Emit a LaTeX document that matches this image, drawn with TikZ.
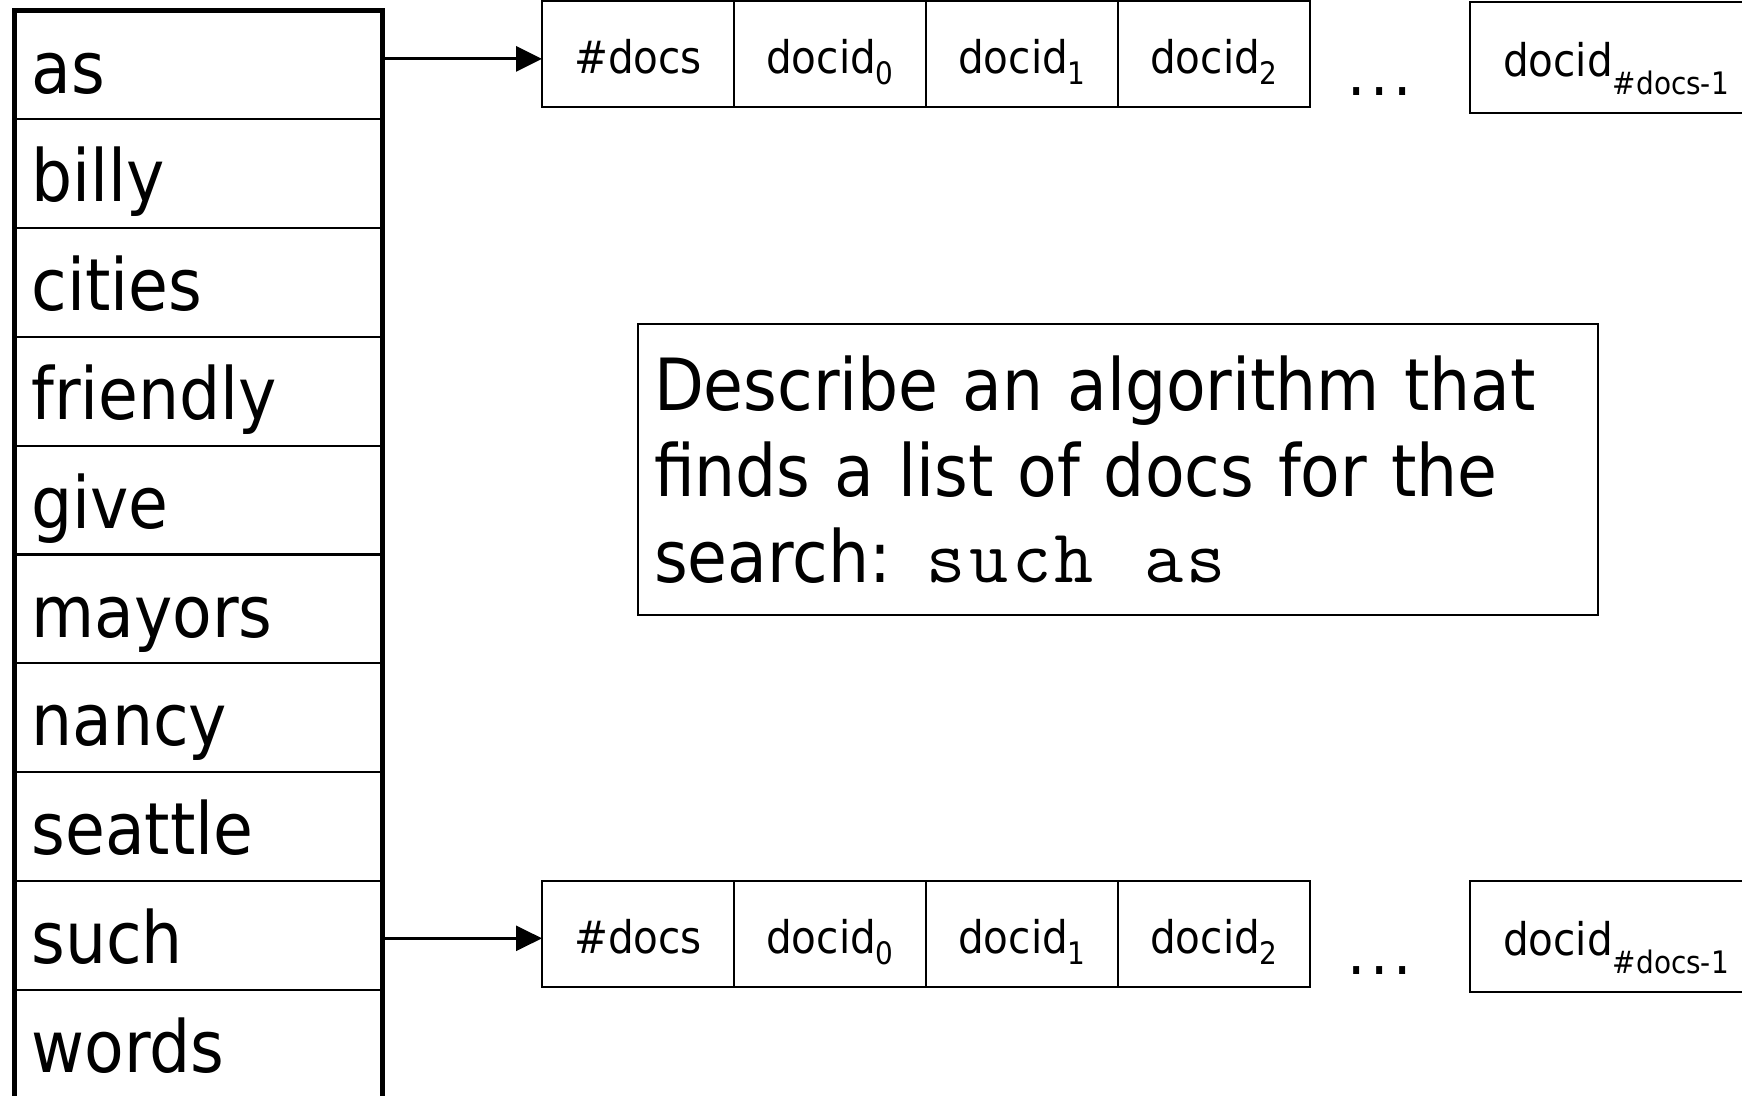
\documentclass[tikz,border=0pt]{standalone}
\usepackage{fontspec}
\setmainfont{DejaVu Sans Condensed}
\newfontfamily\querytt{Latin Modern Mono}[LetterSpace=4.7]
\usetikzlibrary{positioning}
\usetikzlibrary{arrows.meta}

% lowered index after "docid"
\newcommand{\docsub}[2][11pt]{\raisebox{-#1}{\fontsize{31}{31}\selectfont #2}}

\begin{document}
\begin{tikzpicture}[x=1pt,y=-1pt,node distance=0pt,
    word/.style={draw, line width=2.3pt, outer sep=0pt, rectangle, minimum height=108.8pt, text width=333.5pt, inner xsep=17pt, inner ysep=0pt, align=left, font=\fontsize{72}{80}\selectfont, text height=65pt, text depth=8.6pt},
    cell/.style={draw, line width=2.3pt, outer sep=0pt, rectangle, minimum width=192pt, minimum height=106pt, inner sep=0pt, font=\fontsize{45}{50}\selectfont, text height=45pt, text depth=5.4pt},
    lastcell/.style={cell, minimum width=292pt, minimum height=111pt, text depth=8pt},
    gap/.style={inner sep=0pt, font=\fontsize{64}{64}\selectfont},
    link/.style={line width=3pt, -{Triangle[length=26pt,width=25pt]}}]
\useasboundingbox (0,0) rectangle (1742,1095);

% the word list
\node[word, anchor=north west] (as) at (14.5,10.5) {as};
\node[word, below=of as] (billy) {billy};
\node[word, below=of billy] (cities) {cities};
\node[word, below=of cities] (friendly) {friendly};
\node[word, below=of friendly] (give) {give};
\node[word, below=of give] (mayors) {mayors};
\node[word, below=of mayors] (nancy) {nancy};
\node[word, below=of nancy] (seattle) {seattle};
\node[word, below=of seattle] (such) {such};
\node[word, below=of such] (words) {words};
\draw[line width=5pt] (as.north west) rectangle (words.south east);

% postings of "as"
\node[cell, anchor=north west] (a0) at (542,1) {\#docs};
\node[cell, right=of a0] (a1) {docid\docsub{0}};
\node[cell, right=of a1] (a2) {docid\docsub{1}};
\node[cell, right=of a2] (a3) {docid\docsub{2}};
\node[gap] (adots) at (1380,91.5) {.\kern4.7pt.\kern4.7pt.};
\node[lastcell, anchor=north west] (alast) at (1470,2) {docid\docsub[18pt]{\#docs-1}};

% postings of "such"
\node[cell, anchor=north west] (b0) at (542,881) {\#docs};
\node[cell, right=of b0] (b1) {docid\docsub{0}};
\node[cell, right=of b1] (b2) {docid\docsub{1}};
\node[cell, right=of b2] (b3) {docid\docsub{2}};
\node[gap] (bdots) at (1380,971) {.\kern4.7pt.\kern4.7pt.};
\node[lastcell, anchor=north west] (blast) at (1470,881) {docid\docsub[18pt]{\#docs-1}};

\node[draw, line width=2.3pt, outer sep=0pt, anchor=north west, minimum width=960pt, minimum height=291pt, text width=928pt, inner xsep=16pt, align=left, font=\fontsize{72}{86}\selectfont] (task) at (638,324)
  {Describe an algorithm that\\finds a list of docs for the\\search: {\querytt\fontsize{76}{86}\selectfont such\hspace{50pt}as}};

\draw[link] ([yshift=6pt]as.east) -- ([yshift=6pt]as.east -| a0.west);
\draw[link] ([yshift=-3pt]such.east) -- ([yshift=-3pt]such.east -| b0.west);
\end{tikzpicture}
\end{document}
